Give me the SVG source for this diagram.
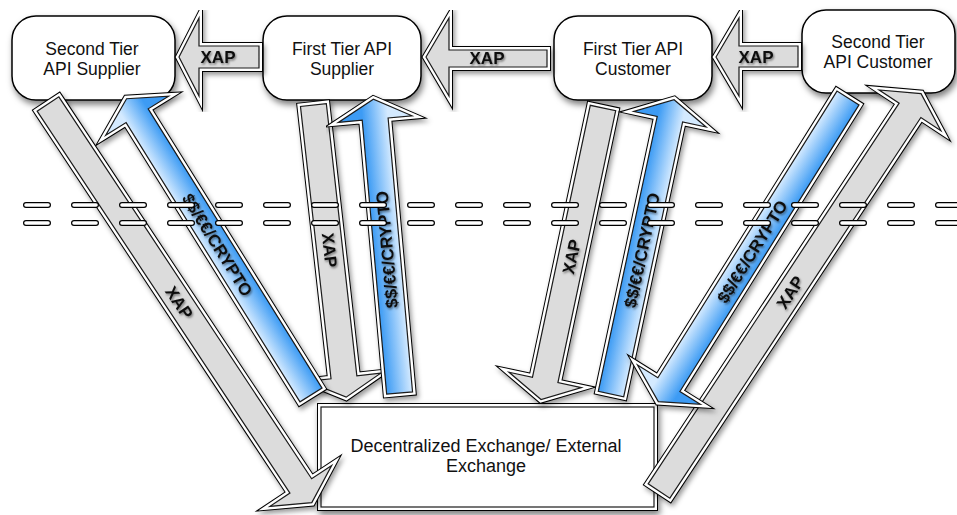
<svg xmlns="http://www.w3.org/2000/svg" xmlns:xlink="http://www.w3.org/1999/xlink" width="957" height="515" viewBox="0 0 957 515">
<style>
.o{fill:none;stroke:#000;stroke-width:8;stroke-linejoin:miter;stroke-miterlimit:10}
.w{fill:none;stroke:#fff;stroke-width:6;stroke-linejoin:miter;stroke-miterlimit:10}
.f{stroke:#1a1a1a;stroke-width:1.2;stroke-linejoin:miter;stroke-miterlimit:10}
.gray .f{fill:#dcdcdc}
.blue .f{fill:url(#bg)}
.blueR .f{fill:url(#bgR)}
.boxg .f{fill:#fff}
.node rect{fill:#fff;stroke:#000;stroke-width:1.5}
.nt{font-family:"Liberation Sans",Arial,Helvetica,sans-serif;font-size:17.5px;fill:#111;text-anchor:middle}
.lbl{font-family:"Liberation Sans",Arial,Helvetica,sans-serif;font-size:17px;font-weight:bold;fill:#111;text-anchor:middle}
.dk{fill:none;stroke:#000;stroke-width:6;stroke-linecap:round;stroke-dasharray:22 26}
.dw{fill:none;stroke:#fff;stroke-width:3.6;stroke-linecap:round;stroke-dasharray:22 26}
</style>
<defs>
<filter id="sh" x="-10%" y="-10%" width="130%" height="130%"><feDropShadow dx="2" dy="3" stdDeviation="2.5" flood-color="#000" flood-opacity="0.4"/></filter>
<filter id="nsh" x="-10%" y="-10%" width="130%" height="140%"><feDropShadow dx="2" dy="4" stdDeviation="3" flood-color="#000" flood-opacity="0.5"/></filter>
<filter id="tsh" x="-20%" y="-20%" width="140%" height="140%"><feDropShadow dx="1" dy="1.5" stdDeviation="1" flood-color="#000" flood-opacity="0.5"/></filter>
<linearGradient id="bg" gradientUnits="userSpaceOnUse" x1="0" y1="-13" x2="0" y2="13"><stop offset="0" stop-color="#3c9bf4"/><stop offset="1" stop-color="#d4eaff"/></linearGradient>
<linearGradient id="bgR" gradientUnits="userSpaceOnUse" x1="0" y1="-13" x2="0" y2="13"><stop offset="0" stop-color="#d4eaff"/><stop offset="1" stop-color="#3c9bf4"/></linearGradient>
<polygon id="h1" points="179,57 199,18 199,46 259,46 259,68 199,68 199,96"/>
<polygon id="h2" points="426,57 449,18 449,50 547,50 547,67 449,67 449,96"/>
<polygon id="h3" points="716,57 739,18 739,46 798,46 798,67 739,67 739,96"/>
<polygon id="p1" points="0,-13 458,-13 458,-37 478,0 458,37 458,13 0,13"/>
<polygon id="p2" points="0,-13 329,-13 329,-37 349,0 329,37 329,13 0,13"/>
<polygon id="p3" points="0,-13 274,-13 274,-37 294,0 274,37 274,13 0,13"/>
<polygon id="p4" points="0,-13 275,-13 275,-37 295,0 275,37 275,13 0,13"/>
<polygon id="p5" points="0,-13 278,-13 278,-37 298,0 278,37 278,13 0,13"/>
<polygon id="p6" points="0,-13 281,-13 281,-37 301,0 281,37 281,13 0,13"/>
<polygon id="p7" points="0,-13 338,-13 338,-37 358,0 338,37 338,13 0,13"/>
<polygon id="p8" points="0,-13 456,-13 456,-37 476,0 456,37 456,13 0,13"/>
<rect id="boxr" x="321" y="407" width="333" height="100"/>
</defs>

<g id="node-second-tier-supplier" class="node">
<rect x="12" y="16" width="163" height="84" rx="24" filter="url(#nsh)"/>
<text class="nt" x="92" y="54.5">Second Tier</text>
<text class="nt" x="92" y="74.5">API Supplier</text>
</g>
<g id="node-first-tier-supplier" class="node">
<rect x="263" y="16" width="158" height="84" rx="24" filter="url(#nsh)"/>
<text class="nt" x="342" y="54.5">First Tier API</text>
<text class="nt" x="342" y="74.5">Supplier</text>
</g>
<g id="node-first-tier-customer" class="node">
<rect x="554" y="16" width="158" height="84" rx="24" filter="url(#nsh)"/>
<text class="nt" x="633" y="54.5">First Tier API</text>
<text class="nt" x="633" y="74.5">Customer</text>
</g>
<g id="node-second-tier-customer" class="node">
<rect x="802" y="10" width="153" height="83" rx="24" filter="url(#nsh)"/>
<text class="nt" x="878" y="48">Second Tier</text>
<text class="nt" x="878" y="68">API Customer</text>
</g>
<g id="node-exchange" class="boxg">
<g filter="url(#nsh)"><use href="#boxr" class="o"/><use href="#boxr" class="w"/><use href="#boxr" class="f"/></g>
<text class="nt" x="486" y="452" style="font-size:18px">Decentralized Exchange/ External</text>
<text class="nt" x="486" y="472" style="font-size:18px">Exchange</text>
</g>

<g id="connectors">
<g id="h-xap-1" class="gray">
<g filter="url(#sh)"><use href="#h1" class="o"/><use href="#h1" class="w"/><use href="#h1" class="f"/></g>
<g filter="url(#tsh)"><text class="lbl" x="218" y="63">XAP</text></g>
</g>
<g id="h-xap-2" class="gray">
<g filter="url(#sh)"><use href="#h2" class="o"/><use href="#h2" class="w"/><use href="#h2" class="f"/></g>
<g filter="url(#tsh)"><text class="lbl" x="487" y="64">XAP</text></g>
</g>
<g id="h-xap-3" class="gray">
<g filter="url(#sh)"><use href="#h3" class="o"/><use href="#h3" class="w"/><use href="#h3" class="f"/></g>
<g filter="url(#tsh)"><text class="lbl" x="756" y="63">XAP</text></g>
</g>

<g id="d3" class="gray">
<g filter="url(#sh)"><g transform="translate(313.4,105) rotate(83.6)"><use href="#p3" class="o"/><use href="#p3" class="w"/><use href="#p3" class="f"/></g></g>
<g filter="url(#tsh)"><text class="lbl" transform="translate(313.4,105) rotate(83.6)" x="146" y="0" dy=".36em">XAP</text></g>
</g>
<g id="d2" class="blueR">
<g filter="url(#sh)"><g transform="translate(311,395) rotate(-121.9)"><use href="#p2" class="o"/><use href="#p2" class="w"/><use href="#p2" class="f"/></g></g>
<g filter="url(#tsh)"><text class="lbl" transform="translate(311,395) rotate(58.1)" x="-177" y="0" dy=".36em">$$/€€/CRYPTO</text></g>
</g>
<g id="d4" class="blue">
<g filter="url(#sh)"><g transform="translate(399.6,393) rotate(-95.1)"><use href="#p4" class="o"/><use href="#p4" class="w"/><use href="#p4" class="f"/></g></g>
<g filter="url(#tsh)"><text class="lbl" transform="translate(399.6,393) rotate(-95.1)" x="144" y="0" dy=".36em">$$/€€/CRYPTO</text></g>
</g>
<g id="d5" class="gray">
<g filter="url(#sh)"><g transform="translate(603,108) rotate(102)"><use href="#p5" class="o"/><use href="#p5" class="w"/><use href="#p5" class="f"/></g></g>
<g filter="url(#tsh)"><text class="lbl" transform="translate(603,108) rotate(-78)" x="-152" y="0" dy=".36em">XAP</text></g>
</g>
<g id="d6" class="blue">
<g filter="url(#sh)"><g transform="translate(611,394) rotate(-77.9)"><use href="#p6" class="o"/><use href="#p6" class="w"/><use href="#p6" class="f"/></g></g>
<g filter="url(#tsh)"><text class="lbl" transform="translate(611,394) rotate(-77.9)" x="147" y="0" dy=".36em">$$/€€/CRYPTO</text></g>
</g>
<g id="d1" class="gray">
<g filter="url(#sh)"><g transform="translate(48,104) rotate(56.5)"><use href="#p1" class="o"/><use href="#p1" class="w"/><use href="#p1" class="f"/></g></g>
<g filter="url(#tsh)"><text class="lbl" transform="translate(48,104) rotate(56.5)" x="238" y="0" dy=".36em">XAP</text></g>
</g>
<g id="d8" class="gray">
<g filter="url(#sh)"><g transform="translate(659,491) rotate(-56.6)"><use href="#p8" class="o"/><use href="#p8" class="w"/><use href="#p8" class="f"/></g></g>
<g filter="url(#tsh)"><text class="lbl" transform="translate(659,491) rotate(-56.6)" x="238" y="0" dy=".36em">XAP</text></g>
</g>
<g id="d7" class="blue">
<g filter="url(#sh)"><g transform="translate(848,98) rotate(122)"><use href="#p7" class="o"/><use href="#p7" class="w"/><use href="#p7" class="f"/></g></g>
<g filter="url(#tsh)"><text class="lbl" transform="translate(848,98) rotate(-58)" x="-181" y="0" dy=".36em">$$/€€/CRYPTO</text></g>
</g>
</g>

<g id="boundary">
<line class="dk" x1="26" y1="205" x2="957" y2="205"/>
<line class="dw" x1="26" y1="205" x2="957" y2="205"/>
<line class="dk" x1="26" y1="223" x2="957" y2="223"/>
<line class="dw" x1="26" y1="223" x2="957" y2="223"/>
</g>
</svg>
